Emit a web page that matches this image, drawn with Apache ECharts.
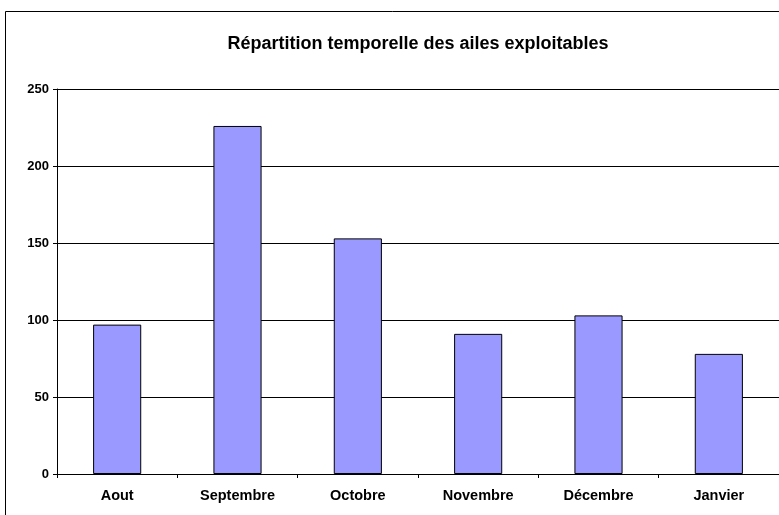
<!DOCTYPE html>
<html>
<head>
<meta charset="utf-8">
<script src="https://cdn.jsdelivr.net/npm/echarts@6/dist/echarts.min.js"></script>
<style>
  html, body { margin: 0; padding: 0; background: #fff; }
  #chart { width: 779px; height: 515px; }
</style>
</head>
<body>
<div id="chart"></div>
<script>
// données
const months = ['Aout', 'Septembre', 'Octobre', 'Novembre', 'Décembre', 'Janvier'];
const wingCounts = [97, 226, 153, 91, 103, 78];
const yTicks = [0, 50, 100, 150, 200, 250];

const chart = echarts.init(document.getElementById('chart'));

const option = {
  backgroundColor: '#fff',
  animation: false,
  title: {
    text: 'Répartition temporelle des ailes exploitables',
    left: 413,
    top: 30,
    textAlign: 'center',
    textStyle: {
      fontFamily: 'Liberation Sans, Arial, sans-serif',
      fontSize: 18,
      fontWeight: 'bold',
      color: '#000'
    }
  },
  graphic: [{
    type: 'rect',
    shape: { x: 5.5, y: 11.5, width: 800, height: 600 },
    style: { fill: 'none', stroke: '#000', lineWidth: 1 },
    silent: true
  }],
  grid: { left: 57, top: 89, width: 722, height: 385 },
  xAxis: {
    type: 'category',
    data: months,
    axisLine: { lineStyle: { color: '#000', width: 1 } },
    axisTick: { show: true, length: 4, alignWithLabel: false, lineStyle: { color: '#000' } },
    axisLabel: {
      margin: 14,
      fontFamily: 'Liberation Sans, Arial, sans-serif',
      fontSize: 14.5,
      fontWeight: 'bold',
      color: '#000'
    }
  },
  yAxis: {
    type: 'value',
    min: yTicks[0],
    max: yTicks[yTicks.length - 1],
    interval: 50,
    axisLine: { show: true, lineStyle: { color: '#000', width: 1 } },
    axisTick: { show: true, length: 4, lineStyle: { color: '#000' } },
    splitLine: { show: true, lineStyle: { color: '#000', width: 1 } },
    axisLabel: {
      margin: 8,
      fontFamily: 'Liberation Sans, Arial, sans-serif',
      fontSize: 13,
      fontWeight: 'bold',
      color: '#000'
    }
  },
  series: [{
    type: 'bar',
    data: wingCounts,
    barWidth: '40%',
    itemStyle: { color: '#9999FF', borderColor: '#000', borderWidth: 1 }
  }]
};

chart.setOption(option);
</script>
</body>
</html>
